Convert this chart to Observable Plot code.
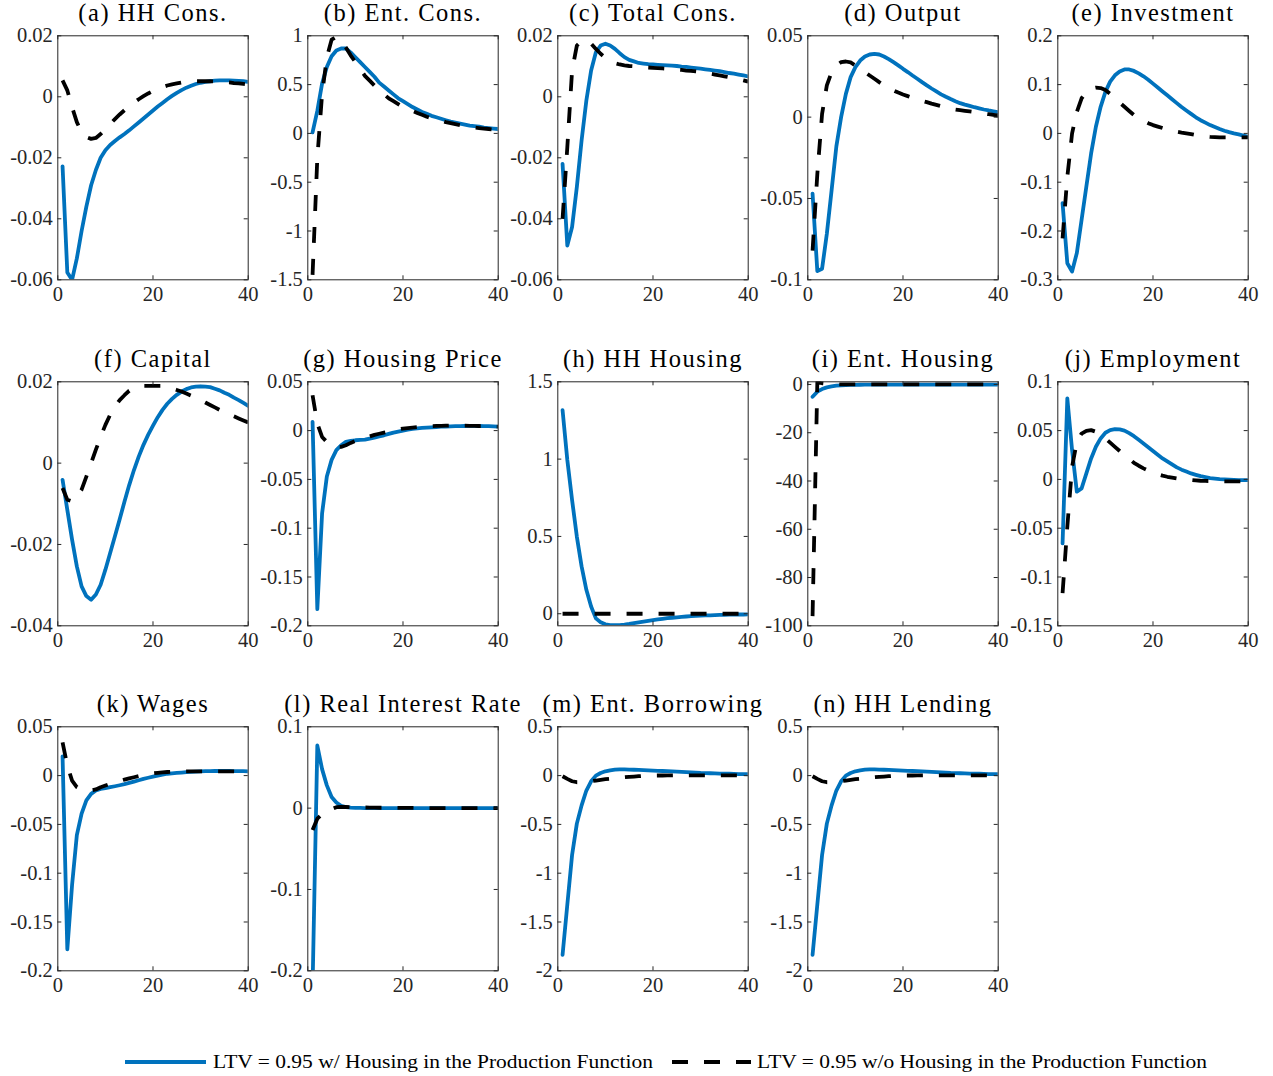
<!DOCTYPE html>
<html>
<head>
<meta charset="utf-8">
<script src="https://cdn.jsdelivr.net/npm/d3@7"></script>
<script src="https://cdn.jsdelivr.net/npm/@observablehq/plot@0.6"></script>
<style>
  html, body { margin: 0; padding: 0; background: #ffffff; }
  #root { position: relative; width: 1273px; height: 1076px; overflow: hidden; background: #fff; }
  .panel { position: absolute; }
</style>
</head>
<body>
<div id="root"></div>
<script>
// ---------------- DATA ----------------
const periods = d3.range(1, 41);
const xTicks = [0, 20, 40];

const seriesNames = [
  "LTV = 0.95 w/ Housing in the Production Function",
  "LTV = 0.95 w/o Housing in the Production Function"
];

const titles = [
  "(a) HH Cons.", "(b) Ent. Cons.", "(c) Total Cons.", "(d) Output", "(e) Investment",
  "(f) Capital", "(g) Housing Price", "(h) HH Housing", "(i) Ent. Housing", "(j) Employment",
  "(k) Wages", "(l) Real Interest Rate", "(m) Ent. Borrowing", "(n) HH Lending"
];

// (a) HH Cons.
const hhConsW = [-0.0228,-0.0576,-0.0600,-0.0530,-0.0440,-0.0360,-0.0290,-0.0240,-0.0200,-0.0175,
  -0.0158,-0.0145,-0.0133,-0.0122,-0.0110,-0.0097,-0.0084,-0.0071,-0.0058,-0.0045,
  -0.0032,-0.0020,-0.0008,0.0003,0.0013,0.0022,0.0030,0.0036,0.0042,0.0046,
  0.0049,0.0051,0.0053,0.0054,0.0054,0.0054,0.0053,0.0052,0.0051,0.0049];
const hhConsWo = [0.0054,0.0021,-0.0034,-0.0083,-0.0116,-0.0132,-0.0138,-0.0135,-0.0122,-0.0106,
  -0.0089,-0.0073,-0.0058,-0.0044,-0.0031,-0.0019,-0.0008,0.0002,0.0011,0.0019,
  0.0026,0.0032,0.0037,0.0041,0.0044,0.0047,0.0049,0.0050,0.0051,0.0051,
  0.0051,0.0051,0.0050,0.0049,0.0048,0.0047,0.0045,0.0044,0.0042,0.0040];

// (b) Ent. Cons.
const entConsW = [0.01,0.23,0.51,0.68,0.79,0.85,0.87,0.87,0.83,0.78,
  0.73,0.68,0.63,0.58,0.52,0.48,0.44,0.40,0.36,0.33,
  0.30,0.27,0.245,0.22,0.20,0.18,0.165,0.15,0.135,0.12,
  0.11,0.10,0.09,0.08,0.075,0.07,0.06,0.055,0.05,0.045];
const entConsWo = [-1.45,-0.25,0.40,0.78,0.96,0.99,0.95,0.88,0.80,0.73,
  0.66,0.59,0.54,0.49,0.44,0.40,0.36,0.33,0.30,0.27,
  0.25,0.23,0.21,0.19,0.17,0.155,0.14,0.13,0.115,0.105,
  0.095,0.085,0.075,0.07,0.06,0.055,0.05,0.045,0.04,0.035];

// (c) Total Cons.
const totConsW = [-0.0220,-0.0488,-0.0427,-0.0296,-0.0143,-0.0012,0.0086,0.0146,0.0168,0.0174,
  0.0168,0.0157,0.0143,0.0130,0.0121,0.0116,0.0111,0.0109,0.0107,0.0106,
  0.0105,0.0104,0.0103,0.0102,0.0101,0.0099,0.0098,0.0096,0.0094,0.0092,
  0.0090,0.0088,0.0086,0.0084,0.0081,0.0078,0.0076,0.0073,0.0070,0.0067];
const totConsWo = [-0.0400,-0.0165,0.0086,0.0168,0.0183,0.0185,0.0174,0.0157,0.0141,0.0128,
  0.0117,0.0110,0.0106,0.0103,0.0101,0.0100,0.0098,0.0097,0.0096,0.0095,
  0.0094,0.0093,0.0092,0.0091,0.0089,0.0088,0.0086,0.0085,0.0083,0.0081,
  0.0079,0.0076,0.0073,0.0070,0.0067,0.0064,0.0061,0.0058,0.0054,0.0050];

// (d) Output
const outputW = [-0.0470,-0.0947,-0.0932,-0.0717,-0.0450,-0.0180,0.0000,0.0143,0.0246,0.0307,
  0.0348,0.0373,0.0385,0.0389,0.0385,0.0373,0.0357,0.0338,0.0318,0.0297,
  0.0277,0.0256,0.0236,0.0215,0.0195,0.0176,0.0158,0.0140,0.0125,0.0111,
  0.0098,0.0086,0.0077,0.0069,0.0061,0.0054,0.0047,0.0041,0.0036,0.0031];
const outputWo = [-0.0820,-0.0350,0.0020,0.0195,0.0277,0.0318,0.0338,0.0342,0.0336,0.0318,
  0.0298,0.0277,0.0256,0.0236,0.0215,0.0195,0.0179,0.0164,0.0151,0.0139,
  0.0129,0.0119,0.0109,0.0100,0.0092,0.0083,0.0075,0.0067,0.0059,0.0051,
  0.0047,0.0043,0.0039,0.0035,0.0031,0.0027,0.0022,0.0018,0.0014,0.0010];

// (e) Investment
const investW = [-0.143,-0.266,-0.283,-0.245,-0.177,-0.109,-0.041,0.0136,0.0545,0.085,
  0.106,0.119,0.127,0.131,0.131,0.128,0.123,0.117,0.110,0.102,
  0.094,0.086,0.078,0.070,0.062,0.054,0.047,0.040,0.033,0.027,
  0.022,0.017,0.013,0.009,0.0055,0.0025,0.0,-0.0020,-0.0045,-0.007];
const investWo = [-0.215,-0.089,0.0,0.044,0.072,0.085,0.092,0.094,0.093,0.089,
  0.081,0.072,0.063,0.0545,0.046,0.0375,0.031,0.026,0.021,0.017,
  0.014,0.011,0.008,0.0055,0.0034,0.0015,0.0,-0.0015,-0.0035,-0.0055,
  -0.006,-0.007,-0.0075,-0.008,-0.008,-0.008,-0.008,-0.008,-0.008,-0.008];

// (f) Capital
const capitalW = [-0.0041,-0.0115,-0.0188,-0.0254,-0.0303,-0.0327,-0.0336,-0.0323,-0.0299,-0.0262,
  -0.0221,-0.0180,-0.0138,-0.0095,-0.0054,-0.0017,0.0016,0.0045,0.0070,0.0092,
  0.0113,0.0131,0.0146,0.0158,0.0168,0.0176,0.0182,0.0186,0.0188,0.0189,
  0.0188,0.0187,0.0183,0.0179,0.0173,0.0168,0.0161,0.0155,0.0148,0.0141];
const capitalWo = [-0.0061,-0.0090,-0.0094,-0.0082,-0.0065,-0.0033,0.0000,0.0033,0.0065,0.0094,
  0.0119,0.0139,0.0155,0.0167,0.0178,0.0184,0.0188,0.0190,0.0190,0.0190,
  0.0190,0.0190,0.0187,0.0184,0.0180,0.0176,0.0171,0.0166,0.0160,0.0155,
  0.0149,0.0143,0.0137,0.0131,0.0125,0.0120,0.0115,0.0110,0.0105,0.0100];

// (g) Housing Price
const housePriceW = [0.0089,-0.1830,-0.0850,-0.0470,-0.0300,-0.0200,-0.0150,-0.0116,-0.0106,-0.0099,
  -0.0096,-0.0092,-0.0082,-0.0072,-0.0060,-0.0048,-0.0034,-0.0020,-0.0010,0.0000,
  0.0009,0.0017,0.0022,0.0027,0.0031,0.0034,0.0037,0.0040,0.0042,0.0044,
  0.0045,0.0046,0.0047,0.0048,0.0048,0.0047,0.0046,0.0045,0.0043,0.0041];
const housePriceWo = [0.0362,0.0072,-0.0065,-0.0116,-0.0150,-0.0167,-0.0167,-0.0150,-0.0126,-0.0106,
  -0.0090,-0.0075,-0.0060,-0.0044,-0.0032,-0.0020,-0.0010,0.0003,0.0012,0.0020,
  0.0026,0.0031,0.0036,0.0040,0.0044,0.0046,0.0048,0.0049,0.0050,0.0051,
  0.0051,0.0050,0.0050,0.0049,0.0048,0.0047,0.0046,0.0045,0.0043,0.0041];

// (h) HH Housing
const hhHousingW = [1.317,0.994,0.736,0.499,0.306,0.155,0.047,-0.030,-0.055,-0.068,
  -0.073,-0.074,-0.073,-0.070,-0.066,-0.061,-0.056,-0.051,-0.046,-0.041,
  -0.037,-0.033,-0.029,-0.026,-0.023,-0.020,-0.018,-0.016,-0.014,-0.012,
  -0.011,-0.010,-0.009,-0.008,-0.007,-0.006,-0.006,-0.005,-0.005,-0.004];
const hhHousingWo = [0,0,0,0,0,0,0,0,0,0,
  0,0,0,0,0,0,0,0,0,0,
  0,0,0,0,0,0,0,0,0,0,
  0,0,0,0,0,0,0,0,0,0];

// (i) Ent. Housing
const entHousingW = [-5.1,-3.0,-1.9,-1.2,-0.8,-0.5,-0.35,-0.25,-0.2,-0.15,
  -0.12,-0.1,-0.1,-0.1,-0.1,-0.1,-0.1,-0.1,-0.1,-0.1,
  -0.1,-0.1,-0.1,-0.1,-0.1,-0.1,-0.1,-0.1,-0.1,-0.1,
  -0.1,-0.1,-0.1,-0.1,-0.1,-0.1,-0.1,-0.1,-0.1,-0.1];
const entHousingWo = [-96,0.9,0.5,0.3,0.2,0.1,0.05,0,0,0,
  0,0,0,0,0,0,0,0,0,0,
  0,0,0,0,0,0,0,0,0,0,
  0,0,0,0,0,0,0,0,0,0];

// (j) Employment
const employW = [-0.0655,0.0830,0.0300,-0.0126,-0.0092,0.0061,0.0215,0.0334,0.0420,0.0478,
  0.0505,0.0515,0.0512,0.0500,0.0474,0.0443,0.0406,0.0368,0.0329,0.0290,
  0.0252,0.0215,0.0184,0.0153,0.0123,0.0100,0.0080,0.0061,0.0047,0.0034,
  0.0024,0.0014,0.0008,0.0003,0.0000,-0.0003,-0.0005,-0.0007,-0.0007,-0.0007];
const employWo = [-0.1166,-0.0484,0.0130,0.0385,0.0470,0.0498,0.0505,0.0488,0.0460,0.0420,
  0.0377,0.0334,0.0291,0.0249,0.0209,0.0170,0.0140,0.0113,0.0090,0.0068,
  0.0052,0.0038,0.0027,0.0018,0.0010,0.0004,-0.0001,-0.0005,-0.0010,-0.0014,
  -0.0016,-0.0017,-0.0018,-0.0019,-0.0020,-0.0020,-0.0020,-0.0020,-0.0020,-0.0020];

// (k) Wages
const wagesW = [0.0197,-0.1780,-0.1120,-0.0610,-0.0390,-0.0254,-0.0187,-0.0153,-0.0136,-0.0129,
  -0.0119,-0.0109,-0.0099,-0.0088,-0.0075,-0.0061,-0.0048,-0.0034,-0.0022,-0.0010,
  0.0000,0.0010,0.0019,0.0023,0.0027,0.0031,0.0035,0.0038,0.0041,0.0044,
  0.0045,0.0046,0.0047,0.0047,0.0047,0.0047,0.0046,0.0045,0.0045,0.0044];
const wagesWo = [0.0340,0.0102,-0.0051,-0.0119,-0.0142,-0.0149,-0.0153,-0.0142,-0.0119,-0.0102,
  -0.0085,-0.0068,-0.0054,-0.0041,-0.0029,-0.0017,-0.0005,0.0007,0.0016,0.0024,
  0.0029,0.0034,0.0037,0.0039,0.0041,0.0042,0.0043,0.0044,0.0044,0.0044,
  0.0044,0.0044,0.0044,0.0044,0.0044,0.0043,0.0043,0.0042,0.0042,0.0041];

// (l) Real Interest Rate
const realRateW = [-0.22,0.077,0.048,0.028,0.0138,0.0069,0.0028,0.0012,0.0006,0.0003,
  0.0002,0.0001,0.0001,0,0,0,0,0,0,0,
  0,0,0,0,0,0,0,0,0,0,
  0,0,0,0,0,0,0,0,0,0];
const realRateWo = [-0.0270,-0.0130,-0.0075,-0.0040,-0.0012,0.0012,0.0016,0.0014,0.0012,0.0010,
  0.0009,0.0008,0.0007,0.0006,0.0005,0.0005,0.0004,0.0004,0.0003,0.0003,
  0.0002,0.0002,0.0002,0.0001,0.0001,0.0001,0.0001,0,0,0,
  0,0,0,0,0,0,0,0,0,0];

// (m) Ent. Borrowing
const entBorrowW = [-1.837,-1.322,-0.814,-0.492,-0.305,-0.153,-0.058,0.000,0.027,0.044,
  0.054,0.061,0.064,0.064,0.062,0.060,0.058,0.056,0.053,0.051,
  0.049,0.047,0.045,0.043,0.041,0.038,0.035,0.032,0.030,0.027,
  0.026,0.024,0.023,0.021,0.020,0.019,0.017,0.016,0.015,0.014];
const entBorrowWo = [-0.007,-0.034,-0.058,-0.068,-0.068,-0.064,-0.058,-0.051,-0.044,-0.037,
  -0.032,-0.027,-0.022,-0.017,-0.013,-0.010,-0.006,-0.003,-0.001,0.000,
  0.001,0.001,0.002,0.002,0.003,0.003,0.003,0.003,0.003,0.003,
  0.003,0.003,0.003,0.003,0.003,0.003,0.003,0.003,0.003,0.003];

// (n) HH Lending
const hhLendW = [-1.837,-1.322,-0.814,-0.492,-0.305,-0.153,-0.058,0.000,0.027,0.044,
  0.054,0.061,0.064,0.064,0.062,0.060,0.058,0.056,0.053,0.051,
  0.049,0.047,0.045,0.043,0.041,0.038,0.035,0.032,0.030,0.027,
  0.026,0.024,0.023,0.021,0.020,0.019,0.017,0.016,0.015,0.014];
const hhLendWo = [-0.007,-0.034,-0.058,-0.068,-0.068,-0.064,-0.058,-0.051,-0.044,-0.037,
  -0.032,-0.027,-0.022,-0.017,-0.013,-0.010,-0.006,-0.003,-0.001,0.000,
  0.001,0.001,0.002,0.002,0.003,0.003,0.003,0.003,0.003,0.003,
  0.003,0.003,0.003,0.003,0.003,0.003,0.003,0.003,0.003,0.003];

// y tick values / domains
const ticksA = [-0.06, -0.04, -0.02, 0, 0.02];
const ticksB = [-1.5, -1, -0.5, 0, 0.5, 1];
const ticksC = [-0.06, -0.04, -0.02, 0, 0.02];
const ticksD = [-0.1, -0.05, 0, 0.05];
const ticksE = [-0.3, -0.2, -0.1, 0, 0.1, 0.2];
const ticksF = [-0.04, -0.02, 0, 0.02];
const ticksG = [-0.2, -0.15, -0.1, -0.05, 0, 0.05];
const ticksH = [0, 0.5, 1, 1.5];
const ticksI = [-100, -80, -60, -40, -20, 0];
const ticksJ = [-0.15, -0.1, -0.05, 0, 0.05, 0.1];
const ticksK = [-0.2, -0.15, -0.1, -0.05, 0, 0.05];
const ticksL = [-0.2, -0.1, 0, 0.1];
const ticksM = [-2, -1.5, -1, -0.5, 0, 0.5];
const ticksN = [-2, -1.5, -1, -0.5, 0, 0.5];

const domains = [
  [-0.06, 0.02], [-1.5, 1], [-0.06, 0.02], [-0.1, 0.05], [-0.3, 0.2],
  [-0.04, 0.02], [-0.2, 0.05], [-0.078, 1.5], [-100, 1.1], [-0.15, 0.1],
  [-0.2, 0.05], [-0.2, 0.1], [-2, 0.5], [-2, 0.5]
];

const withHousing = [hhConsW, entConsW, totConsW, outputW, investW, capitalW, housePriceW,
  hhHousingW, entHousingW, employW, wagesW, realRateW, entBorrowW, hhLendW];
const withoutHousing = [hhConsWo, entConsWo, totConsWo, outputWo, investWo, capitalWo, housePriceWo,
  hhHousingWo, entHousingWo, employWo, wagesWo, realRateWo, entBorrowWo, hhLendWo];
const yTicks = [ticksA, ticksB, ticksC, ticksD, ticksE, ticksF, ticksG, ticksH, ticksI, ticksJ,
  ticksK, ticksL, ticksM, ticksN];

// ---------------- LAYOUT / STYLE ----------------
const BLUE = "#0072BD";
const INK = "#262626";
const FONT = "'Liberation Serif', 'Times New Roman', serif";
const mL = 57.3, mT = 35.3, boxW = 190.4, boxH = 244, mR = 12.3, mB = 32;
const colStep = 250;
const rowBoxTops = [35.3, 381.7, 726.5];
const TICK = 4;

const root = document.getElementById("root");

titles.forEach((title, i) => {
  const row = Math.floor(i / 5), col = i % 5;
  const data = periods.map((t, k) => ({t, w: withHousing[i][k], wo: withoutHousing[i][k]}));
  const ticks = yTicks[i];
  const chart = Plot.plot({
    width: mL + boxW + mR,
    height: mT + boxH + mB,
    marginLeft: mL, marginRight: mR, marginTop: mT, marginBottom: mB,
    x: {domain: [0, 40]},
    y: {domain: domains[i]},
    style: {fontFamily: FONT, fontSize: "20.5px", color: INK, background: "transparent", overflow: "visible"},
    marks: [
      Plot.line(data, {x: "t", y: "w", stroke: BLUE, strokeWidth: 3.8, clip: true}),
      Plot.line(data, {x: "t", y: "wo", stroke: "#000", strokeWidth: 3.8, strokeDasharray: "16,16",
        strokeLinecap: "butt", strokeLinejoin: "round", clip: true}),
      Plot.frame({stroke: INK, strokeWidth: 1}),
      Plot.tickY(ticks, {y: d => d, stroke: INK, strokeWidth: 1, insetRight: boxW - TICK}),
      Plot.tickY(ticks, {y: d => d, stroke: INK, strokeWidth: 1, insetLeft: boxW - TICK}),
      Plot.tickX(xTicks, {x: d => d, stroke: INK, strokeWidth: 1, insetTop: boxH - TICK}),
      Plot.tickX(xTicks, {x: d => d, stroke: INK, strokeWidth: 1, insetBottom: boxH - TICK}),
      Plot.axisY({ticks: ticks, tickSize: 0, tickPadding: 5, tickFormat: d => String(d), label: null, fill: INK}),
      Plot.axisX({ticks: xTicks, tickSize: 0, tickPadding: 7, tickFormat: d => String(d), label: null, fill: INK}),
      Plot.text([title], {text: d => d, frameAnchor: "top", lineAnchor: "bottom", dy: -15,
        fontSize: 24.5, fill: "#000", className: "ptitle"})
    ]
  });
  chart.classList.add("panel");
  chart.style.left = (col * colStep) + "px";
  chart.style.top = (rowBoxTops[row] - mT) + "px";
  root.appendChild(chart);
});

// widen titles a little (the original uses a wider serif face)
d3.selectAll(".ptitle text").style("letter-spacing", "1.5px");

// ---------------- LEGEND ----------------
const legend = d3.select(root).append("svg")
  .attr("class", "panel")
  .attr("width", 1273).attr("height", 40)
  .style("left", "0px").style("top", "1042px");
const ly = 20;
legend.append("line").attr("x1", 125).attr("x2", 206).attr("y1", ly).attr("y2", ly)
  .attr("stroke", BLUE).attr("stroke-width", 3.8);
legend.append("text").attr("x", 213).attr("y", ly).attr("dy", "0.33em")
  .attr("font-family", FONT).attr("font-size", 18).attr("fill", "#000")
  .attr("textLength", 440).attr("lengthAdjust", "spacingAndGlyphs")
  .text(seriesNames[0]);
legend.append("line").attr("x1", 672).attr("x2", 751).attr("y1", ly).attr("y2", ly)
  .attr("stroke", "#000").attr("stroke-width", 3.8).attr("stroke-dasharray", "16,16");
legend.append("text").attr("x", 757).attr("y", ly).attr("dy", "0.33em")
  .attr("font-family", FONT).attr("font-size", 18).attr("fill", "#000")
  .attr("textLength", 450).attr("lengthAdjust", "spacingAndGlyphs")
  .text(seriesNames[1]);
</script>
</body>
</html>
